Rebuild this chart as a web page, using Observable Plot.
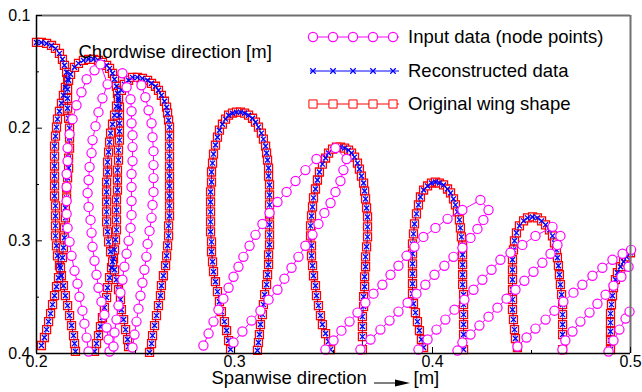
<!DOCTYPE html>
<html><head><meta charset="utf-8">
<script src="https://cdn.jsdelivr.net/npm/d3@7"></script>
<script src="https://cdn.jsdelivr.net/npm/@observablehq/plot@0.6"></script>
<style>body{margin:0;background:#fff} #chart{width:642px;height:392px}</style>
</head><body><div id="chart"></div>
<script>
// ---------- Original wing shape (section outlines), [spanwise, chordwise] in metres ----------
const origLoop1 = [[0.2000,0.1239],[0.2025,0.1239],[0.2051,0.1248],[0.2076,0.1266],[0.2096,0.1292],[0.2116,0.1336],[0.2131,0.1389],[0.2141,0.1442],[0.2152,0.1504],[0.2157,0.1566],[0.2146,0.1637],[0.2136,0.1708],[0.2126,0.1779],[0.2116,0.1850],[0.2106,0.1920],[0.2101,0.1991],[0.2096,0.2071],[0.2091,0.2159],[0.2091,0.2248],[0.2091,0.2336],[0.2091,0.2425],[0.2091,0.2513],[0.2091,0.2602],[0.2096,0.2690],[0.2096,0.2779],[0.2096,0.2867],[0.2096,0.2956],[0.2101,0.3044],[0.2106,0.3133],[0.2116,0.3221],[0.2126,0.3310],[0.2136,0.3398],[0.2146,0.3487],[0.2157,0.3575],[0.2167,0.3664],[0.2177,0.3752],[0.2187,0.3841],[0.2192,0.3912],[0.2197,0.3982]];
const origLoop2 = [[0.2025,0.3929],[0.2040,0.3858],[0.2051,0.3788],[0.2061,0.3717],[0.2071,0.3646],[0.2081,0.3566],[0.2091,0.3487],[0.2101,0.3407],[0.2111,0.3327],[0.2121,0.3239],[0.2131,0.3150],[0.2136,0.3062],[0.2141,0.2973],[0.2141,0.2885],[0.2146,0.2796],[0.2146,0.2708],[0.2152,0.2619],[0.2152,0.2531],[0.2157,0.2442],[0.2162,0.2354],[0.2162,0.2265],[0.2167,0.2177],[0.2167,0.2088],[0.2167,0.2000],[0.2162,0.1912],[0.2157,0.1823],[0.2157,0.1735],[0.2157,0.1655],[0.2162,0.1575],[0.2172,0.1522],[0.2192,0.1460],[0.2212,0.1425],[0.2237,0.1398],[0.2263,0.1389],[0.2288,0.1389],[0.2313,0.1398],[0.2333,0.1416],[0.2354,0.1442],[0.2369,0.1469],[0.2384,0.1513],[0.2394,0.1566],[0.2404,0.1628],[0.2409,0.1690],[0.2414,0.1752],[0.2419,0.1814],[0.2419,0.1885],[0.2419,0.1956],[0.2419,0.2027],[0.2419,0.2106],[0.2414,0.2195],[0.2414,0.2283],[0.2409,0.2372],[0.2409,0.2460],[0.2409,0.2549],[0.2404,0.2637],[0.2404,0.2726],[0.2404,0.2814],[0.2404,0.2903],[0.2399,0.2991],[0.2394,0.3080],[0.2389,0.3159],[0.2379,0.3239],[0.2369,0.3327],[0.2359,0.3416],[0.2354,0.3504],[0.2343,0.3593],[0.2333,0.3681],[0.2323,0.3761],[0.2313,0.3841],[0.2303,0.3912],[0.2293,0.3982]];
const origLoop3 = [[0.2465,0.3938],[0.2460,0.3876],[0.2450,0.3788],[0.2440,0.3699],[0.2429,0.3611],[0.2424,0.3522],[0.2414,0.3434],[0.2404,0.3345],[0.2394,0.3257],[0.2384,0.3186],[0.2374,0.3097],[0.2364,0.3009],[0.2359,0.2920],[0.2354,0.2832],[0.2354,0.2743],[0.2354,0.2655],[0.2354,0.2566],[0.2354,0.2478],[0.2359,0.2389],[0.2359,0.2301],[0.2364,0.2212],[0.2369,0.2124],[0.2374,0.2044],[0.2384,0.1965],[0.2394,0.1885],[0.2404,0.1805],[0.2414,0.1735],[0.2429,0.1664],[0.2444,0.1611],[0.2465,0.1575],[0.2485,0.1549],[0.2510,0.1549],[0.2535,0.1558],[0.2561,0.1575],[0.2581,0.1602],[0.2601,0.1628],[0.2616,0.1664],[0.2631,0.1708],[0.2646,0.1761],[0.2657,0.1814],[0.2662,0.1867],[0.2667,0.1929],[0.2672,0.1991],[0.2672,0.2071],[0.2672,0.2159],[0.2672,0.2248],[0.2672,0.2336],[0.2672,0.2425],[0.2672,0.2513],[0.2672,0.2602],[0.2672,0.2690],[0.2672,0.2779],[0.2667,0.2867],[0.2667,0.2956],[0.2662,0.3044],[0.2657,0.3133],[0.2652,0.3221],[0.2641,0.3310],[0.2631,0.3398],[0.2626,0.3487],[0.2616,0.3575],[0.2606,0.3664],[0.2596,0.3752],[0.2586,0.3841],[0.2581,0.3912],[0.2571,0.3991]];
const origLoop4 = [[0.2980,0.3965],[0.2970,0.3885],[0.2960,0.3796],[0.2949,0.3717],[0.2934,0.3628],[0.2924,0.3540],[0.2914,0.3451],[0.2904,0.3363],[0.2894,0.3274],[0.2889,0.3186],[0.2884,0.3097],[0.2884,0.3009],[0.2879,0.2920],[0.2879,0.2832],[0.2879,0.2743],[0.2879,0.2655],[0.2879,0.2566],[0.2884,0.2478],[0.2884,0.2389],[0.2889,0.2310],[0.2894,0.2230],[0.2904,0.2150],[0.2914,0.2080],[0.2924,0.2018],[0.2939,0.1965],[0.2955,0.1920],[0.2970,0.1885],[0.2990,0.1867],[0.3010,0.1858],[0.3030,0.1858],[0.3051,0.1867],[0.3071,0.1885],[0.3091,0.1912],[0.3106,0.1947],[0.3121,0.1991],[0.3136,0.2044],[0.3146,0.2097],[0.3157,0.2159],[0.3162,0.2221],[0.3167,0.2283],[0.3172,0.2354],[0.3172,0.2425],[0.3177,0.2504],[0.3177,0.2593],[0.3177,0.2681],[0.3177,0.2770],[0.3177,0.2858],[0.3177,0.2947],[0.3177,0.3035],[0.3172,0.3124],[0.3172,0.3212],[0.3167,0.3301],[0.3162,0.3389],[0.3152,0.3478],[0.3146,0.3566],[0.3141,0.3655],[0.3131,0.3743],[0.3126,0.3832],[0.3121,0.3903],[0.3116,0.3973]];
const origLoop5 = [[0.3485,0.3965],[0.3475,0.3894],[0.3460,0.3823],[0.3444,0.3743],[0.3434,0.3664],[0.3424,0.3575],[0.3414,0.3487],[0.3409,0.3398],[0.3399,0.3310],[0.3394,0.3221],[0.3389,0.3133],[0.3389,0.3044],[0.3384,0.2956],[0.3384,0.2867],[0.3389,0.2779],[0.3394,0.2699],[0.3399,0.2619],[0.3409,0.2540],[0.3419,0.2460],[0.3429,0.2389],[0.3444,0.2319],[0.3460,0.2265],[0.3475,0.2221],[0.3495,0.2186],[0.3515,0.2168],[0.3535,0.2168],[0.3556,0.2177],[0.3576,0.2195],[0.3591,0.2221],[0.3606,0.2257],[0.3621,0.2310],[0.3631,0.2363],[0.3641,0.2425],[0.3652,0.2487],[0.3657,0.2558],[0.3662,0.2628],[0.3667,0.2708],[0.3672,0.2788],[0.3672,0.2876],[0.3672,0.2965],[0.3667,0.3053],[0.3662,0.3142],[0.3662,0.3230],[0.3657,0.3319],[0.3657,0.3407],[0.3652,0.3496],[0.3652,0.3584],[0.3646,0.3673],[0.3646,0.3761],[0.3646,0.3850],[0.3646,0.3965]];
const origLoop6 = [[0.3955,0.3947],[0.3944,0.3876],[0.3934,0.3796],[0.3924,0.3717],[0.3914,0.3637],[0.3904,0.3558],[0.3899,0.3469],[0.3899,0.3381],[0.3899,0.3292],[0.3899,0.3204],[0.3899,0.3115],[0.3899,0.3027],[0.3904,0.2938],[0.3909,0.2850],[0.3919,0.2761],[0.3929,0.2681],[0.3939,0.2611],[0.3955,0.2549],[0.3975,0.2513],[0.3995,0.2487],[0.4015,0.2478],[0.4035,0.2487],[0.4056,0.2504],[0.4076,0.2540],[0.4091,0.2575],[0.4106,0.2628],[0.4116,0.2681],[0.4126,0.2743],[0.4136,0.2814],[0.4141,0.2885],[0.4146,0.2965],[0.4152,0.3044],[0.4152,0.3124],[0.4152,0.3212],[0.4152,0.3301],[0.4152,0.3389],[0.4157,0.3478],[0.4157,0.3566],[0.4157,0.3655],[0.4157,0.3743],[0.4157,0.3832],[0.4157,0.3965]];
const origLoop7 = [[0.4429,0.3947],[0.4419,0.3867],[0.4414,0.3788],[0.4409,0.3699],[0.4404,0.3611],[0.4404,0.3522],[0.4404,0.3434],[0.4404,0.3345],[0.4404,0.3257],[0.4404,0.3168],[0.4409,0.3080],[0.4414,0.3000],[0.4424,0.2929],[0.4439,0.2867],[0.4460,0.2823],[0.4480,0.2796],[0.4505,0.2788],[0.4530,0.2796],[0.4551,0.2823],[0.4571,0.2858],[0.4591,0.2903],[0.4606,0.2956],[0.4616,0.3018],[0.4626,0.3080],[0.4631,0.3150],[0.4636,0.3221],[0.4641,0.3301],[0.4646,0.3389],[0.4652,0.3478],[0.4657,0.3566],[0.4657,0.3655],[0.4657,0.3743],[0.4657,0.3832],[0.4657,0.3965]];
const origLoop8 = [[0.4899,0.3965],[0.4899,0.3885],[0.4899,0.3805],[0.4899,0.3726],[0.4899,0.3646],[0.4904,0.3566],[0.4909,0.3487],[0.4914,0.3416],[0.4924,0.3345],[0.4934,0.3283],[0.4949,0.3230],[0.4965,0.3186],[0.4980,0.3142],[0.5000,0.3106]];

// ---------- Input data (node points) ----------
const inputChain1 = [[0.2263,0.3982],[0.2253,0.3859],[0.2242,0.3735],[0.2232,0.3620],[0.2217,0.3496],[0.2207,0.3381],[0.2192,0.3266],[0.2177,0.3133],[0.2167,0.3009],[0.2157,0.2885],[0.2152,0.2761],[0.2152,0.2646],[0.2152,0.2522],[0.2152,0.2407],[0.2157,0.2292],[0.2157,0.2177],[0.2167,0.2053],[0.2182,0.1920],[0.2202,0.1797],[0.2227,0.1681],[0.2253,0.1566],[0.2293,0.1487],[0.2323,0.1434],[0.2359,0.1611],[0.2333,0.1735],[0.2313,0.1858],[0.2298,0.1982],[0.2283,0.2106],[0.2278,0.2221],[0.2268,0.2345],[0.2263,0.2460],[0.2258,0.2575],[0.2263,0.2699],[0.2273,0.2814],[0.2278,0.2929],[0.2283,0.3053],[0.2293,0.3177],[0.2303,0.3301],[0.2313,0.3416],[0.2328,0.3540],[0.2343,0.3655],[0.2354,0.3770],[0.2364,0.3876],[0.2369,0.3982]];
const inputChain2 = [[0.2389,0.3938],[0.2394,0.3814],[0.2404,0.3699],[0.2414,0.3575],[0.2424,0.3460],[0.2434,0.3345],[0.2444,0.3230],[0.2455,0.3115],[0.2465,0.3000],[0.2475,0.2885],[0.2480,0.2770],[0.2480,0.2646],[0.2480,0.2522],[0.2480,0.2407],[0.2485,0.2292],[0.2485,0.2168],[0.2485,0.2062],[0.2480,0.1956],[0.2480,0.1850],[0.2475,0.1743],[0.2455,0.1637],[0.2434,0.1513],[0.2530,0.1619],[0.2550,0.1726],[0.2566,0.1841],[0.2581,0.1956],[0.2586,0.2080],[0.2591,0.2204],[0.2591,0.2328],[0.2591,0.2443],[0.2591,0.2566],[0.2586,0.2681],[0.2581,0.2796],[0.2571,0.2912],[0.2561,0.3027],[0.2555,0.3142],[0.2545,0.3257],[0.2535,0.3372],[0.2525,0.3487],[0.2515,0.3602],[0.2505,0.3717],[0.2495,0.3832],[0.2485,0.3947]];
const inputChain3 = [[0.2843,0.3929],[0.2869,0.3823],[0.2894,0.3717],[0.2919,0.3611],[0.2944,0.3513],[0.2970,0.3416],[0.2995,0.3319],[0.3020,0.3230],[0.3045,0.3142],[0.3076,0.3044],[0.3106,0.2947],[0.3141,0.2850],[0.3177,0.2752],[0.3217,0.2655],[0.3263,0.2566],[0.3308,0.2469],[0.3358,0.2372],[0.3414,0.2274],[0.3510,0.2177],[0.3566,0.2274],[0.3550,0.2372],[0.3535,0.2469],[0.3510,0.2566],[0.3485,0.2664],[0.3454,0.2752],[0.3424,0.2850],[0.3394,0.2947],[0.3358,0.3044],[0.3323,0.3142],[0.3288,0.3239],[0.3252,0.3336],[0.3217,0.3434],[0.3172,0.3522],[0.3131,0.3620],[0.3086,0.3708],[0.3040,0.3805],[0.2995,0.3903]];
const inputChain4 = [[0.3459,0.3965],[0.3500,0.3885],[0.3540,0.3797],[0.3581,0.3717],[0.3621,0.3637],[0.3661,0.3549],[0.3702,0.3469],[0.3747,0.3390],[0.3788,0.3301],[0.3828,0.3221],[0.3869,0.3133],[0.3909,0.3053],[0.3954,0.2965],[0.4015,0.2885],[0.4076,0.2805],[0.4151,0.2726],[0.4242,0.2637],[0.4283,0.2726],[0.4257,0.2814],[0.4227,0.2894],[0.4192,0.2974],[0.4151,0.3062],[0.4106,0.3142],[0.4060,0.3221],[0.4010,0.3301],[0.3964,0.3390],[0.3919,0.3469],[0.3874,0.3549],[0.3828,0.3628],[0.3783,0.3708],[0.3737,0.3788],[0.3687,0.3876],[0.3636,0.3965]];
const inputChain5 = [[0.3929,0.3965],[0.3975,0.3876],[0.4020,0.3788],[0.4065,0.3699],[0.4111,0.3611],[0.4161,0.3522],[0.4207,0.3434],[0.4252,0.3345],[0.4298,0.3257],[0.4343,0.3168],[0.4394,0.3106],[0.4454,0.3036],[0.4520,0.2956],[0.4606,0.2876],[0.4646,0.2956],[0.4631,0.3036],[0.4596,0.3115],[0.4555,0.3195],[0.4510,0.3274],[0.4464,0.3354],[0.4419,0.3434],[0.4374,0.3513],[0.4328,0.3593],[0.4283,0.3673],[0.4237,0.3752],[0.4192,0.3832],[0.4151,0.3903],[0.4126,0.3974]];
const inputChain6 = [[0.4429,0.3938],[0.4475,0.3858],[0.4520,0.3779],[0.4571,0.3699],[0.4616,0.3620],[0.4661,0.3540],[0.4712,0.3460],[0.4757,0.3390],[0.4808,0.3310],[0.4858,0.3239],[0.4909,0.3168],[0.4960,0.3115],[0.5003,0.3080],[0.4990,0.3230],[0.4954,0.3319],[0.4914,0.3398],[0.4874,0.3478],[0.4833,0.3558],[0.4793,0.3637],[0.4747,0.3717],[0.4707,0.3805],[0.4671,0.3885],[0.4656,0.3965]];
const inputChain7 = [[0.4889,0.3982],[0.4914,0.3885],[0.4944,0.3788],[0.4975,0.3690],[0.4995,0.3628]];

// ---------- axes & labels ----------
const xTicks = [0.2, 0.3, 0.4, 0.5];
const xMinorTicks = [0.25, 0.35, 0.45];
const yTicks = [0.1, 0.2, 0.3, 0.4];
const yMinorTicks = [0.15, 0.25, 0.35];
const legendLabels = ["Input data (node points)", "Reconstructed data", "Original wing shape"];
const chordTitle = "Chordwise direction [m]";
const spanTitle = "Spanwise direction";
const spanUnit = "[m]";

const origLoops = [origLoop1, origLoop2, origLoop3, origLoop4, origLoop5, origLoop6, origLoop7, origLoop8];
const inputChains = [inputChain1, inputChain2, inputChain3, inputChain4, inputChain5, inputChain6, inputChain7];
const toRows = loops => loops.flatMap((pts, i) => pts.map(([x, y]) => ({x, y, s: i})));
const orig = toRows(origLoops);
const input = toRows(inputChains);

const W = 642, H = 392, mL = 36, mR = 12, mT = 15, mB = 39;
const innerW = W - mL - mR, innerH = H - mT - mB;
const FONT = "'Liberation Sans', Arial, Helvetica, sans-serif";
const RED = "#ff0000", BLUE = "#0000ff", MAG = "#ff00ff";
const TITLE_SIZE = 18.5;

const plot = Plot.plot({
  width: W, height: H,
  marginLeft: mL, marginRight: mR, marginTop: mT, marginBottom: mB,
  style: {fontFamily: FONT, fontSize: "16px", background: "white", color: "black", overflow: "visible"},
  x: {domain: [0.2, 0.5], axis: null, label: null},
  y: {domain: [0.1, 0.4], reverse: true, axis: null, label: null},
  marks: [
    Plot.line(orig, {x: "x", y: "y", z: "s", stroke: RED, strokeWidth: 1}),
    Plot.dot(orig, {x: "x", y: "y", symbol: "square", r: 4.5, stroke: RED, fill: "white", strokeWidth: 1.3}),
    Plot.line(orig, {x: "x", y: "y", z: "s", stroke: BLUE, strokeWidth: 0.7}),
    Plot.dot(orig, {x: "x", y: "y", symbol: "times", r: 2.4, stroke: BLUE, strokeWidth: 1.3}),
    Plot.line(input, {x: "x", y: "y", z: "s", stroke: MAG, strokeWidth: 1}),
    Plot.dot(input, {x: "x", y: "y", r: 4.6, stroke: MAG, fill: "white", strokeWidth: 1.2}),
    // frame
    Plot.ruleY([0.1], {y: d => d, stroke: "#707070", strokeWidth: 2}),
    Plot.ruleX([0.5], {x: d => d, stroke: "#707070", strokeWidth: 2}),
    Plot.ruleX([0.2], {x: d => d, stroke: "black", strokeWidth: 1.5}),
    Plot.ruleY([0.4], {y: d => d, stroke: "black", strokeWidth: 1.5}),
    // inward ticks
    Plot.ruleX(xTicks, {x: d => d, insetTop: innerH - 6, stroke: "black"}),
    Plot.ruleX(xMinorTicks, {x: d => d, insetTop: innerH - 3, stroke: "black"}),
    Plot.ruleY(yTicks, {y: d => d, insetRight: innerW - 6, stroke: "black"}),
    Plot.ruleY(yMinorTicks, {y: d => d, insetRight: innerW - 3, stroke: "black"}),
    Plot.axisX(xTicks, {tickSize: 0, tickPadding: 2, tickFormat: d => d.toFixed(1), fontSize: 16, label: null}),
    Plot.axisY(yTicks, {tickSize: 0, tickPadding: 6, tickFormat: d => d.toFixed(1), fontSize: 16, label: null}),
    Plot.text([chordTitle], {text: d => d, frameAnchor: "top-left", dx: 42, dy: 29, textAnchor: "start", fontSize: TITLE_SIZE}),
    Plot.text([spanTitle], {text: d => d, frameAnchor: "bottom-left", dx: 175, dy: 30, textAnchor: "start", fontSize: TITLE_SIZE}),
    Plot.text([spanUnit], {text: d => d, frameAnchor: "bottom-left", dx: 377, dy: 30, textAnchor: "start", fontSize: TITLE_SIZE})
  ]
});

// arrow between "Spanwise direction" and "[m]"
const svg = d3.select(plot);
const ag = svg.append("g");
ag.append("line").attr("x1", 374).attr("x2", 398).attr("y1", 383).attr("y2", 383).attr("stroke", "black").attr("stroke-width", 1);
ag.append("path").attr("d", "M395,379.5L410,383L395,386.5Z").attr("fill", "black");

// legend
const lg = svg.append("g").attr("font-family", FONT).attr("font-size", TITLE_SIZE).attr("text-anchor", "start");
const rowY = [37, 71, 104];
const markX = [313, 333, 353, 373, 393];
const sq = d3.symbol(d3.symbolSquare, Math.PI * 4.6 * 4.6)();
const tx = d3.symbol(d3.symbolTimes, Math.PI * 2.6 * 2.6)();
const styles = [
  {stroke: MAG, draw: g => g.append("circle").attr("r", 4.6).attr("fill", "white").attr("stroke", MAG).attr("stroke-width", 1.2)},
  {stroke: BLUE, draw: g => g.append("path").attr("d", tx).attr("fill", "none").attr("stroke", BLUE).attr("stroke-width", 1.2)},
  {stroke: RED, draw: g => g.append("path").attr("d", sq).attr("fill", "white").attr("stroke", RED).attr("stroke-width", 1)}
];
legendLabels.forEach((label, i) => {
  const y = rowY[i];
  lg.append("line").attr("x1", 310).attr("x2", 399).attr("y1", y).attr("y2", y).attr("stroke", styles[i].stroke).attr("stroke-width", 1);
  markX.forEach(x => styles[i].draw(lg.append("g").attr("transform", `translate(${x},${y})`)));
  lg.append("text").attr("x", 408).attr("y", y).attr("dy", "0.35em").attr("fill", "black").attr("text-anchor", "start").text(label);
});

document.getElementById("chart").appendChild(plot);
</script>
</body></html>
